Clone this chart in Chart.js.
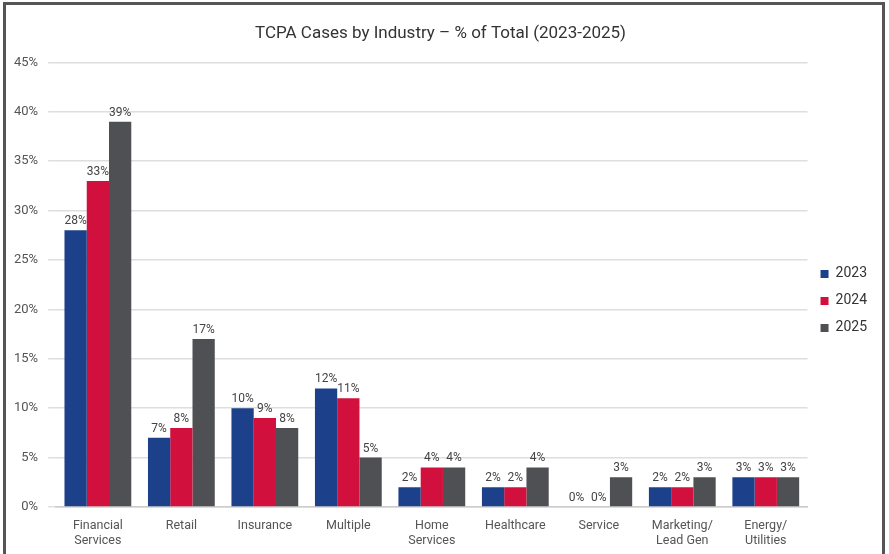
<!DOCTYPE html>
<html>
<head>
<meta charset="utf-8">
<script src="https://cdn.jsdelivr.net/npm/chart.js@4"></script>
<style>
  html, body { margin: 0; padding: 0; background: #fff; }
  #wrap { position: relative; width: 889px; height: 554px; }
  #frame { position: absolute; left: 3px; top: 2px; width: 876px; height: 560px;
           border: 3px solid #555; border-bottom: none; pointer-events: none; }
</style>
</head>
<body>
<div id="wrap">
  <canvas id="chart" width="889" height="554"></canvas>
  <div id="frame"></div>
</div>
<script>
const categories = [
  ["Financial", "Services"], "Retail", "Insurance", "Multiple", ["Home", "Services"],
  "Healthcare", "Service", ["Marketing/", "Lead Gen"], ["Energy/", "Utilities"]
];
const years = ["2023", "2024", "2025"];
const values2023 = [28, 7, 10, 12, 2, 2, 0, 2, 3];
const values2024 = [33, 8, 9, 11, 4, 2, 0, 2, 3];
const values2025 = [39, 17, 8, 5, 4, 4, 3, 3, 3];
const colors = ["#1d408a", "#d1103d", "#4f5054"];

// labels above each bar
const barLabels = {
  id: "barLabels",
  afterDatasetsDraw(chart) {
    const ctx = chart.ctx;
    ctx.save();
    ctx.font = "12px Roboto";
    ctx.fillStyle = "#444";
    ctx.textAlign = "center";
    ctx.textBaseline = "bottom";
    chart.data.datasets.forEach((ds, i) => {
      chart.getDatasetMeta(i).data.forEach((bar, j) => {
        ctx.fillText(ds.data[j] + "%", bar.x, bar.y - 3);
      });
    });
    ctx.restore();
  }
};

new Chart(document.getElementById("chart"), {
  type: "bar",
  data: {
    labels: categories,
    datasets: [values2023, values2024, values2025].map((d, i) => ({
      label: years[i],
      data: d,
      backgroundColor: colors[i],
      barPercentage: 1,
      categoryPercentage: 0.8
    }))
  },
  options: {
    responsive: false,
    animation: false,
    layout: { padding: { left: 4, right: 12, top: 10, bottom: 3 } },
    plugins: {
      title: {
        display: true,
        text: "TCPA Cases by Industry \u2013 % of Total (2023-2025)",
        font: { family: "Roboto", size: 17, weight: "normal" },
        color: "#333",
        padding: { top: 14, bottom: 18 }
      },
      legend: {
        position: "right",
        title: { display: true, text: " ", padding: { top: 36, bottom: 0 }, font: { size: 4 } },
        labels: {
          font: { family: "Roboto", size: 14 },
          color: "#333",
          boxWidth: 8,
          boxHeight: 8,
          padding: 13
        }
      },
      tooltip: { enabled: false }
    },
    scales: {
      x: {
        grid: { display: false },
        border: { color: "#ccc", width: 1.5 },
        ticks: { font: { family: "Roboto", size: 12.5 }, color: "#555", maxRotation: 0, autoSkip: false }
      },
      y: {
        min: 0,
        max: 45,
        grid: { color: "#dedede", lineWidth: 1.5 },
        border: { display: false },
        ticks: {
          stepSize: 5,
          font: { family: "Roboto", size: 13 },
          color: "#555",
          padding: 10,
          callback: v => v + "%"
        }
      }
    }
  },
  plugins: [barLabels]
});
</script>
</body>
</html>
